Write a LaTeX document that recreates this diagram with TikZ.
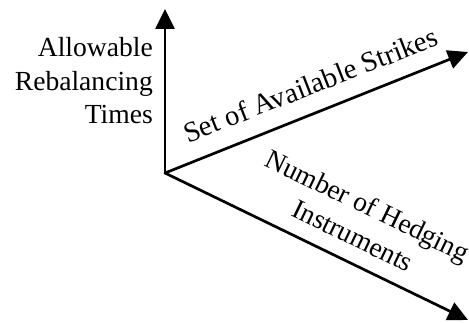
\documentclass[tikz,border=0pt]{standalone}
\usepackage{fontspec}
\setmainfont{Liberation Serif}
\usepackage{tikz}
\usetikzlibrary{arrows.meta, calc}
\tikzset{axis/.style={line width=2.7pt, line cap=round, -{Triangle[length=20pt,width=19pt]}}}

\begin{document}
\begin{tikzpicture}[x=1pt, y=1pt,
every node/.append style={inner sep=0pt,
	font=\fontsize{27.6}{33.5}\selectfont}]
\useasboundingbox (0,0) rectangle (469,322);

\coordinate (O) at (165,149);
\coordinate (T) at (165,313);
\coordinate (K) at (468,270);
\coordinate (H) at (468,2);

\draw[axis] (O) -- (T);
\draw[axis] (O) -- (K);
\draw[axis] (O) -- (H);

\node[anchor=base east, align=right] at (153,198) (time){Allowable\\Rebalancing\\Times};
\node[anchor=base, rotate=21.3, font=\fontsize{28.6}{34}\selectfont] at (314,228) (strike){Set of Available Strikes};
\node[anchor=base, align=center, rotate=-25.9] at (349,78) (hedge){Number of Hedging\\Instruments};
\end{tikzpicture}
\end{document}
